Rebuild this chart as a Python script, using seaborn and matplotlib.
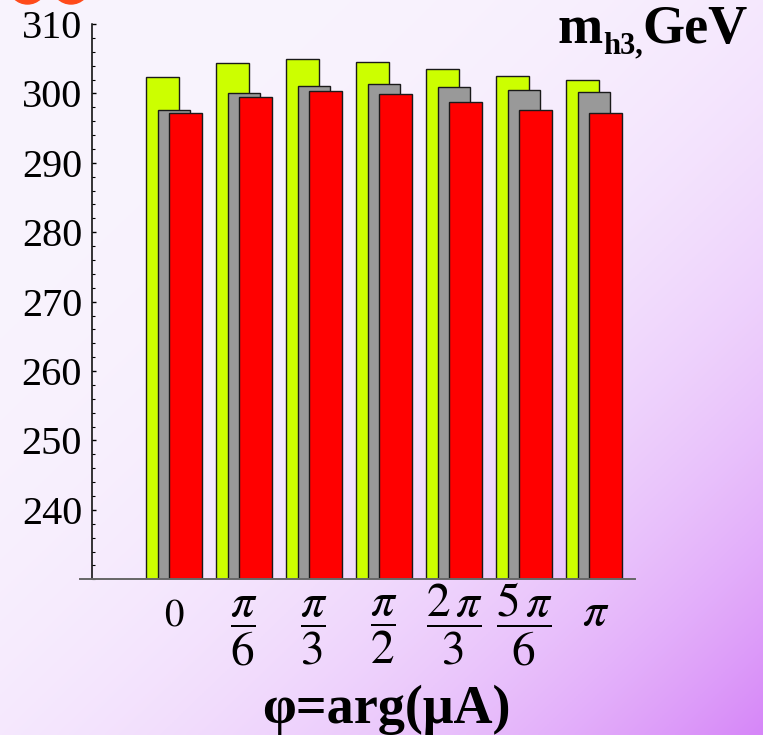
import numpy as np
import pandas as pd
import matplotlib
matplotlib.use('Agg')
import matplotlib.pyplot as plt
import seaborn as sns
from matplotlib.patches import Ellipse
from matplotlib.ticker import MultipleLocator, FixedLocator

# ---- data ----
phi_index = [0, 1, 2, 3, 4, 5, 6]
phi_labels = ['0', r'$\dfrac{\pi}{6}$', r'$\dfrac{\pi}{3}$', r'$\dfrac{\pi}{2}$',
              r'$\dfrac{2\,\pi}{3}$', r'$\dfrac{5\,\pi}{6}$', 'π']
mh3_green = [302.3, 304.4, 305.0, 304.5, 303.5, 302.5, 302.0]
mh3_gray = [297.6, 300.0, 301.1, 301.3, 300.9, 300.5, 300.2]
mh3_red = [297.15, 299.5, 300.4, 299.9, 298.8, 297.6, 297.15]
y_ticks = [240, 250, 260, 270, 280, 290, 300, 310]

sns.set_style('ticks')
plt.rcParams['font.family'] = ['Liberation Serif', 'DejaVu Serif']
plt.rcParams['mathtext.fontset'] = 'stix'
for k in ('text.color', 'axes.labelcolor', 'xtick.color', 'ytick.color',
          'xtick.labelcolor', 'ytick.labelcolor'):
    plt.rcParams[k] = 'black'

W, H = 763, 735
fig = plt.figure(figsize=(W / 100, H / 100), dpi=100)

# background gradient
bg = fig.add_axes([0, 0, 1, 1], zorder=0)
xs = np.linspace(0, 1, 400)
ys = np.linspace(0, 1, 400)
X, Y = np.meshgrid(xs, ys)  # Y=0 at top (imshow origin upper)
t = np.clip((X + Y) / 2, 0, 1) ** 3.2
c0 = np.array([249, 244, 254]) / 255
c1 = np.array([214, 134, 248]) / 255
img = c0[None, None, :] + (c1 - c0)[None, None, :] * t[..., None]
bg.imshow(img, extent=[0, 1, 0, 1], aspect='auto', origin='upper')
for cx in (27.5, 71.0):
    bg.add_patch(Ellipse((cx / W, 1 + 15 / H), 2 * 19 / W, 2 * 19 / H,
                         color='#ff4a1a', clip_on=False))
bg.set_xlim(0, 1)
bg.set_ylim(0, 1)
bg.axis('off')

# main axes
ax = fig.add_axes([80 / W, (H - 579.3) / H, 555 / W, (579.3 - 24) / H], zorder=1)
ax.set_facecolor('none')

df = pd.DataFrame({'pos': phi_index, 'green': mh3_green, 'gray': mh3_gray, 'red': mh3_red})
series = [('green', '#ccff00', -0.165), ('gray', '#999999', 0.0), ('red', '#ff0000', 0.165)]
for col, color, off in series:
    sns.barplot(x=df['pos'] + off, y=df[col], native_scale=True, width=0.47,
                color=color, saturation=1, edgecolor='#1a1a1a', linewidth=1.0,
                errorbar=None, ax=ax)

ax.set_xlim((80 - 174) / 70, (635 - 174) / 70)
ax.set_ylim(230, 310)

for s in ('top', 'right'):
    ax.spines[s].set_visible(False)
ax.spines['left'].set_position(('data', (92.5 - 174) / 70))
ax.spines['left'].set_color('black')
ax.spines['left'].set_linewidth(1.1)
ax.spines['bottom'].set_color('#666666')
ax.spines['bottom'].set_linewidth(1.4)

ax.yaxis.set_major_locator(FixedLocator(y_ticks))
ax.yaxis.set_minor_locator(MultipleLocator(2))
ax.tick_params(axis='y', which='major', direction='in', length=3, width=1.0,
               pad=7.5, labelsize=29, color='black', labelcolor='black')
ax.tick_params(axis='y', which='minor', direction='in', length=2, width=0.8, color='black')
for lbl in ax.get_yticklabels():
    lbl.set_family('Liberation Serif')

ax.set_xticks(phi_index)
ax.set_xticklabels(phi_labels, fontsize=28)
ax.tick_params(axis='x', which='both', length=0, pad=40, labelcolor='black')
for lbl in ax.get_xticklabels():
    if 'frac' in lbl.get_text():
        lbl.set_fontsize(34)
        lbl.set_va('baseline')
    else:
        lbl.set_va('bottom')
        lbl.set_family('STIXGeneral')
        if lbl.get_text() == 'π':
            lbl.set_style('italic')
            lbl.set_fontsize(34)

ax.set_ylabel('')
ax.set_xlabel('φ=arg(μA)', fontsize=39, fontweight='bold', family='Liberation Serif',
              color='black')
ax.xaxis.label.set_va('baseline')
ax.xaxis.set_label_coords((386 - 80) / 555, ((H - 722.7) / H - (H - 579.3) / H) / ((579.3 - 24) / H))

# title  m_{h3,}GeV
gev = fig.text(748 / W, 1 - 43 / H, 'GeV', ha='right', va='baseline', fontsize=39,
               fontweight='bold', family='Liberation Serif', color='black')
sub = ax.annotate('h3,', xy=(0, 1 - 53 / H), xycoords=(gev, 'figure fraction'),
                  ha='right', va='baseline', fontsize=22, fontweight='bold',
                  family='Liberation Serif', color='black', annotation_clip=False)
ax.annotate('m', xy=(0, 1 - 43 / H), xycoords=(sub, 'figure fraction'),
            ha='right', va='baseline', fontsize=39, fontweight='bold',
            family='Liberation Serif', color='black', annotation_clip=False)

fig.savefig('out.png', dpi=100)
